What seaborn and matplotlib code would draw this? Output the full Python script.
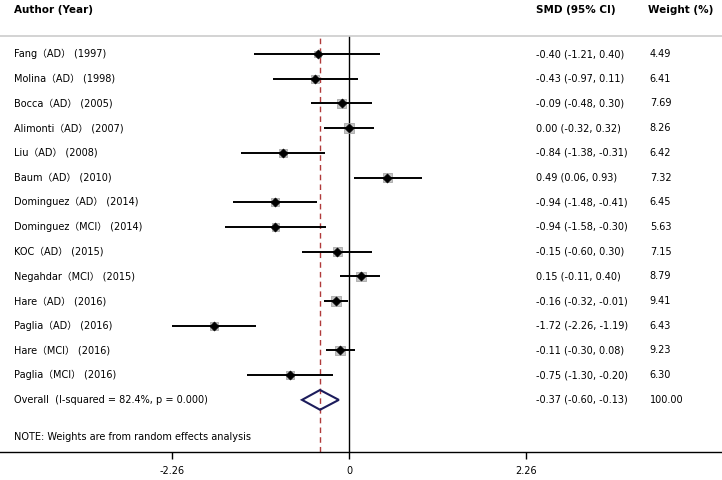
import numpy as np
import pandas as pd
import matplotlib
matplotlib.use('Agg')
import matplotlib.pyplot as plt
from matplotlib.patches import Polygon
import seaborn as sns

# study data
studies = ['Fang（AD） (1997)', 'Molina（AD） (1998)', 'Bocca（AD） (2005)',
           'Alimonti（AD） (2007)', 'Liu（AD） (2008)', 'Baum（AD） (2010)',
           'Dominguez（AD） (2014)', 'Dominguez（MCI） (2014)', 'KOC（AD） (2015)',
           'Negahdar（MCI） (2015)', 'Hare（AD） (2016)', 'Paglia（AD） (2016)',
           'Hare（MCI） (2016)', 'Paglia（MCI） (2016)']
smd = [-0.40, -0.43, -0.09, 0.00, -0.84, 0.49, -0.94, -0.94, -0.15, 0.15, -0.16, -1.72, -0.11, -0.75]
lower = [-1.21, -0.97, -0.48, -0.32, -1.38, 0.06, -1.48, -1.58, -0.60, -0.11, -0.32, -2.26, -0.30, -1.30]
upper = [0.40, 0.11, 0.30, 0.32, -0.31, 0.93, -0.41, -0.30, 0.30, 0.40, -0.01, -1.19, 0.08, -0.20]
weight = [4.49, 6.41, 7.69, 8.26, 6.42, 7.32, 6.45, 5.63, 7.15, 8.79, 9.41, 6.43, 9.23, 6.30]

overall_label = 'Overall  (I-squared = 82.4%, p = 0.000)'
overall_smd, overall_lo, overall_hi, overall_w = -0.37, -0.60, -0.13, 100.00
note = 'NOTE: Weights are from random effects analysis'
xticks = [-2.26, 0, 2.26]
xticklabels = ['-2.26', '0', '2.26']

df = pd.DataFrame({'study': studies, 'smd': smd, 'lo': lower, 'hi': upper, 'w': weight})
df['row'] = np.arange(len(df))
overall_row = len(df)

sns.set_style('white')
plt.rcParams['font.family'] = ['DejaVu Sans', 'Noto Sans CJK SC']
plt.rcParams['text.color'] = 'black'

fig = plt.figure(figsize=(7.22, 4.8), dpi=100)
ax = fig.add_axes([0, 28 / 480, 1, 416 / 480])

# weight boxes
sns.scatterplot(data=df, x='smd', y='row', size='w', sizes=(22, 52), size_norm=(4.49, 9.41),
                marker='s', color='#c4c4c4', edgecolor='#a8a8a8', linewidth=0.6,
                legend=False, ax=ax, zorder=2)
# confidence intervals
ax.hlines(df['row'], df['lo'], df['hi'], color='black', lw=1.4, zorder=3)
# point estimates
sns.scatterplot(data=df, x='smd', y='row', marker='D', color='black', s=22,
                edgecolor='black', legend=False, ax=ax, zorder=4)

# overall diamond
h = 0.4
diamond = Polygon([[overall_lo, overall_row], [overall_smd, overall_row - h],
                   [overall_hi, overall_row], [overall_smd, overall_row + h]],
                  closed=True, fill=False, edgecolor='#1c1c5c', lw=1.5, zorder=4)
ax.add_patch(diamond)

# reference lines
ax.axvline(0, color='black', lw=1.0, zorder=1)
ax.axvline(overall_smd, color='#b03a3a', lw=1.0, ls=(0, (4, 3)), zorder=1)

ax.set_xlim(-349 / 78.3, 373 / 78.3)
ax.set_ylim(16.11, -0.73)
ax.set_xticks(xticks)
ax.set_xticklabels(xticklabels)
ax.set_yticks([])
ax.set_xlabel('')
ax.set_ylabel('')
ax.tick_params(axis='x', bottom=True, direction='out', length=5, width=1, color='black',
               labelsize=7, labelcolor='black', pad=5)

for s in ['left', 'right']:
    ax.spines[s].set_visible(False)
ax.spines['top'].set_color('#cccccc')
ax.spines['top'].set_linewidth(1.2)
ax.spines['bottom'].set_color('black')
ax.spines['bottom'].set_linewidth(1.0)

tr = ax.get_yaxis_transform()
fs = 7
# headers
for xpos, head in [(0.0194, 'Author (Year)'), (0.742, 'SMD (95% CI)'), (0.897, 'Weight (%)')]:
    ax.text(xpos, -1.78, head, transform=tr, fontsize=7.5, fontweight='bold',
            va='center', ha='left', clip_on=False)

for r in df.itertuples():
    ax.text(0.0194, r.row, r.study, transform=tr, fontsize=fs, va='center', ha='left')
    ax.text(0.742, r.row, f'{r.smd:.2f} ({r.lo:.2f}, {r.hi:.2f})', transform=tr,
            fontsize=fs, va='center', ha='left')
    ax.text(0.90, r.row, f'{r.w:.2f}', transform=tr, fontsize=fs, va='center', ha='left')

ax.text(0.0194, overall_row, overall_label, transform=tr, fontsize=fs, va='center', ha='left')
ax.text(0.742, overall_row, f'{overall_smd:.2f} ({overall_lo:.2f}, {overall_hi:.2f})',
        transform=tr, fontsize=fs, va='center', ha='left')
ax.text(0.90, overall_row, f'{overall_w:.2f}', transform=tr, fontsize=fs, va='center', ha='left')
ax.text(0.0194, overall_row + 1.5, note, transform=tr, fontsize=fs, va='center', ha='left')

fig.savefig('out.png', dpi=100)
